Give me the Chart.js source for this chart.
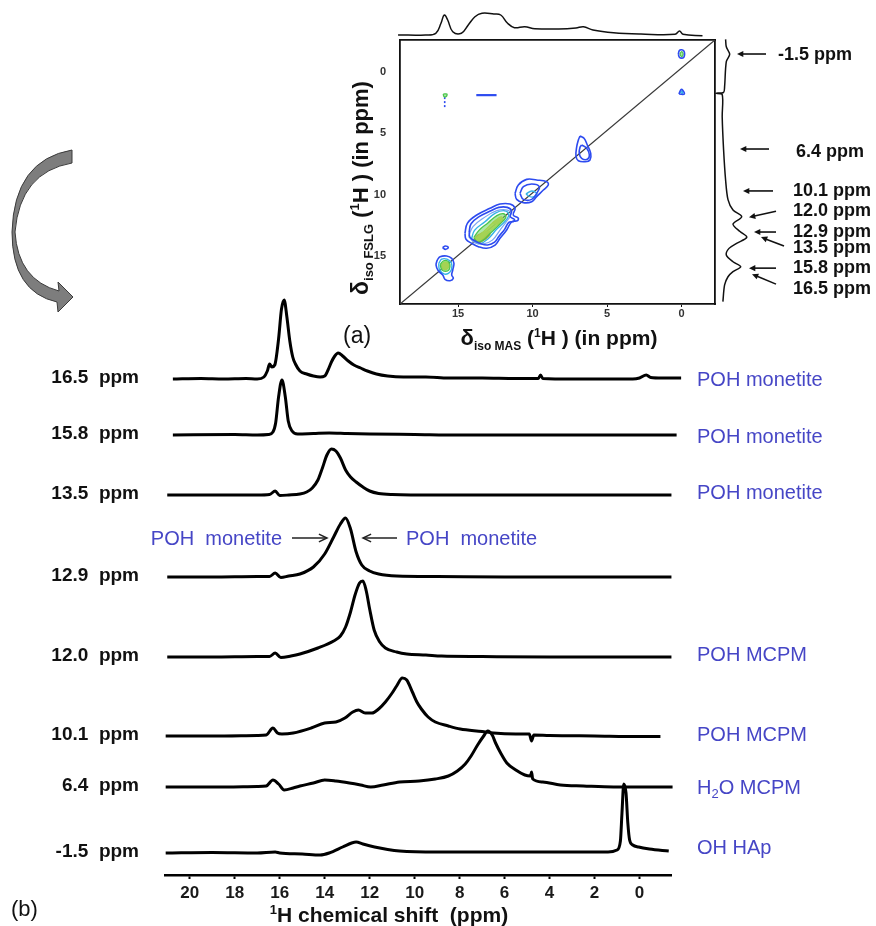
<!DOCTYPE html>
<html><head><meta charset="utf-8">
<script src="https://cdn.jsdelivr.net/npm/chart.js@4.4.0/dist/chart.umd.min.js"></script>
<style>
html,body{margin:0;padding:0;background:#fff;}
#wrap{position:relative;width:876px;height:926px;overflow:hidden;background:#fff;}
canvas{position:absolute;left:0;top:0;pointer-events:none;}
</style></head><body>
<div id="wrap">
<canvas id="cB" width="876" height="926"></canvas>
<canvas id="cA" width="876" height="926"></canvas>
<canvas id="cTop" width="876" height="926"></canvas>
<canvas id="cRight" width="876" height="926"></canvas>
</div>
<script>
// ---------------- DATA: panel (b) stacked 1D slices ----------------
const tickValuesB = [0,2,4,6,8,10,12,14,16,18,20];
const traceLabels = ['16.5  ppm','15.8  ppm','13.5  ppm','12.9  ppm','12.0  ppm','10.1  ppm','6.4  ppm','-1.5  ppm'];
const assignments = ['POH monetite','POH monetite','POH monetite','','POH MCPM','POH MCPM','H\u2082O MCPM','OH HAp'];
const stackOffsets = [496,440,380,298,218,139,88,22];

const trace16p5 = [[20.75,0],[19.5,0.5],[18.5,0],[17.5,0.5],[17.0,0],[16.7,2],[16.55,8],[16.45,15],[16.35,12],[16.22,14],[16.05,40],[15.92,70],[15.8,79],[15.68,62],[15.55,38],[15.42,22],[15.3,15],[15.1,8],[14.8,5],[14.5,3],[14.2,2],[14.0,3],[13.85,9],[13.7,17],[13.55,23],[13.4,26],[13.2,23],[12.95,18],[12.7,14],[12.4,11],[12.1,8],[11.7,5],[11.2,3],[10.5,2],[9.5,2],[8.5,1],[7.0,1],[5.5,0.5],[4.5,0.5],[4.4,4],[4.3,0.5],[3.0,0],[1.5,0],[0.3,0],[0.0,1],[-0.3,4],[-0.5,1.5],[-1.0,1],[-1.85,1]];
const trace15p8 = [[20.75,0],[18.0,0.5],[17.0,0],[16.5,0.5],[16.3,3],[16.18,12],[16.05,38],[15.9,55],[15.75,38],[15.62,14],[15.45,4],[15.2,1],[14.5,1.5],[13.8,2],[13.0,1.5],[12.0,1],[10.0,0.5],[8.0,0],[5.0,0],[2.0,0],[0.0,0],[-1.65,0]];
const trace13p5 = [[21.0,0],[19.0,0],[17.0,0],[16.45,0.5],[16.2,4],[16.0,-0.5],[15.6,0],[15.1,1],[14.8,3],[14.55,7],[14.3,15],[14.1,27],[13.9,40],[13.7,46],[13.5,44],[13.3,37],[13.07,25],[12.85,18],[12.6,13],[12.3,8],[12.0,4],[11.6,1.5],[11.0,0.5],[9.0,0],[6.0,0],[3.0,0],[0.0,0],[-1.42,0]];
const trace12p9 = [[21.0,0],[19.0,0],[17.0,0.5],[16.45,0.5],[16.2,4],[15.95,-0.5],[15.6,1],[15.1,3],[14.5,10],[14.0,23],[13.6,40],[13.3,53],[13.07,59],[12.85,48],[12.6,25],[12.35,12],[12.0,6],[11.6,3],[10.8,1],[9.0,0.5],[6.0,0],[3.0,0],[0.0,0],[-1.42,0]];
const trace12p0 = [[21.0,0],[19.0,0],[17.0,0.5],[16.45,0.5],[16.2,4],[15.95,-0.5],[15.5,1],[15.1,3],[14.3,9],[13.6,16],[13.3,21],[13.07,30],[12.85,45],[12.65,62],[12.45,74],[12.3,76],[12.15,66],[12.0,48],[11.8,27],[11.55,15],[11.3,9],[10.8,5],[10.35,3],[9.5,2],[8.8,1],[7.0,0.5],[4.0,0],[1.0,0],[-1.42,0]];
const trace10p1 = [[21.07,0],[19.0,0],[17.0,0.5],[16.6,1],[16.3,8],[16.1,3],[15.9,2],[15.4,3],[14.6,8],[14.0,13],[13.5,14],[13.1,18],[12.75,24],[12.5,26],[12.2,23],[11.9,23],[11.6,27],[11.3,34],[11.0,43],[10.8,50],[10.55,58],[10.35,56],[10.1,44],[9.9,34],[9.7,27],[9.4,19],[9.08,14],[8.5,10],[7.97,7],[7.0,4.5],[6.5,3],[5.5,2],[4.9,2],[4.8,-5],[4.7,1],[4.0,0.5],[2.0,0],[0.0,-0.5],[-0.93,-0.5]];
const trace6p4 = [[21.07,0],[19.0,0],[17.0,0.5],[16.6,1],[16.3,7],[16.05,3],[15.8,-3],[15.4,-1],[15.1,1],[14.5,4],[14.0,7],[13.5,6],[12.9,4],[12.4,2],[11.95,0],[11.4,2],[10.67,5],[9.8,6],[9.08,8],[8.5,11],[8.1,16],[7.75,23],[7.49,31],[7.2,42],[6.93,51],[6.75,56],[6.55,52],[6.4,44],[6.15,33],[5.9,24],[5.5,17],[5.1,12],[4.85,11],[4.8,15],[4.75,8],[4.3,5],[3.52,2],[2.5,1],[1.15,0],[-1.47,0]];
const traceMinus1p5 = [[21.07,0],[19.0,0.5],[17.0,0],[16.2,1],[16.0,0],[15.0,-1],[14.2,-2],[13.8,0],[13.2,6],[12.8,10],[12.6,11],[12.3,9],[11.78,6],[11.2,3.5],[10.67,2],[9.0,1],[7.0,1],[5.0,1],[3.0,1],[1.4,1],[1.0,3],[0.85,12],[0.78,40],[0.7,69],[0.6,60],[0.52,30],[0.44,13],[0.3,8],[0.04,6],[-0.44,4],[-1.3,2]];

// ---------------- DATA: panel (a) 2D map ----------------
const tickValuesA = [0,5,10,15];
const topProjection = [[19.03,5],[17.19,5],[16.5,6.7],[16.15,16.7],[15.93,25],[15.7,20],[15.36,8.3],[14.78,6.7],[14.32,15],[13.87,23.3],[13.4,26.7],[12.6,26],[12.14,25],[11.68,16.7],[11.22,12.3],[10.53,13.3],[9.85,11.3],[8.24,11],[7.09,12],[6.59,13.3],[5.95,10],[4.57,7.3],[2.73,6],[0.44,5.7],[0.14,9],[-0.09,5.7],[-1.4,4.3]];
const rightProjection = [[10.6,-2.65],[11.3,-2.05],[14.7,-1.43],[11.3,-0.83],[9.6,1.2],[8.6,1.66],[1,1.74],[7.2,1.84],[7.2,3.65],[8.6,6.36],[10.6,8.8],[13,10.4],[18,11.25],[26.7,11.79],[18,12.39],[25,13.0],[31.8,13.47],[21.6,13.96],[14,14.37],[11.3,14.91],[18,15.46],[25.7,15.86],[18,16.27],[13,16.68],[9.6,17.35],[7.9,18.71]];
const markerPpm = [-1.5,6.4,10.1,12.0,12.9,13.5,15.8,16.5];
const markerLabels = ['-1.5 ppm','6.4 ppm','10.1 ppm','12.0 ppm','12.9 ppm','13.5 ppm','15.8 ppm','16.5 ppm'];
const diagonal = [[18.9,18.9],[-2.24,-2.6]];
const dashH = [[13.78,1.89],[12.42,1.89]];
const dashV = [[15.9,2.05],[15.9,3.0]];

const contoursBlue = [
 [[0.22,-1.45],[0.15,-1.75],[0,-1.8],[-0.15,-1.7],[-0.2,-1.45],[-0.15,-1.2],[0,-1.12],[0.15,-1.2]],
 [[0.18,1.8],[0.05,1.45],[-0.05,1.45],[-0.18,1.8]],
 [[16.05,14.3],[15.85,14.18],[15.66,14.3],[15.85,14.45]],
 [[16.40,15.32],[16.21,15.05],[15.77,14.99],[15.43,15.18],[15.28,15.59],[15.36,16.13],[15.43,16.54],[15.32,16.81],[15.54,17.0],[15.88,16.89],[16.03,16.54],[16.33,16.19],[16.48,15.73]],
 [[6.82,5.22],[6.55,5.41],[6.33,5.95],[6.10,6.63],[6.15,7.17],[6.48,7.31],[6.93,7.23],[7.09,6.85],[7.04,6.09],[6.93,5.55]],
 [[6.71,5.95],[6.37,6.22],[6.19,6.77],[6.33,7.12],[6.71,7.04],[6.87,6.63],[6.82,6.14]],
 [[11.18,9.89],[10.96,9.21],[10.40,8.75],[9.73,8.80],[9.05,8.94],[8.95,9.21],[9.28,9.62],[9.73,10.16],[10.06,10.57],[10.62,10.65],[11.07,10.38]],
 [[10.85,9.89],[10.62,9.35],[10.06,9.13],[9.55,9.35],[9.73,9.89],[10.06,10.38],[10.62,10.38]],
 [[14.54,13.14],[14.38,12.33],[13.75,11.65],[12.86,11.11],[12.19,10.76],[11.52,10.76],[11.18,11.11],[11.30,11.65],[10.96,11.92],[11.03,12.12],[11.40,12.20],[11.74,12.87],[12.19,13.55],[12.52,14.10],[13.08,14.36],[13.64,14.23],[14.09,13.96],[14.47,13.63]],
 [[14.26,13.05],[14.13,12.36],[13.59,11.78],[12.84,11.33],[12.27,11.03],[11.70,11.03],[11.41,11.33],[11.51,11.78],[11.22,12.01],[11.28,12.18],[11.6,12.25],[11.88,12.82],[12.27,13.4],[12.55,13.87],[13.02,14.09],[13.5,13.98],[13.88,13.75],[14.2,13.47]]
];
const contoursLightBlue = [
 [[14.3,13.4],[14.0,12.6],[13.3,11.9],[12.4,11.3],[11.7,11.25],[11.45,11.6],[11.7,12.1],[12.2,12.9],[12.7,13.7],[13.3,14.0],[13.9,13.9]]
];
const contoursCyan = [
 [[14.1,13.6],[13.9,12.9],[13.2,12.2],[12.5,11.5],[11.9,11.3],[11.6,11.6],[11.8,12.1],[12.4,12.8],[13.0,13.6],[13.6,14.0]],
 [[16.3,15.6],[16.1,15.25],[15.75,15.25],[15.45,15.55],[15.45,16.1],[15.65,16.4],[15.95,16.45],[16.25,16.1]],
 [[10.45,9.95],[10.06,9.7],[9.7,9.95],[10.06,10.2]],
 [[0.08,1.72],[0,1.55],[-0.08,1.72]]
];
const contoursGreen = [
 [[13.95,13.5],[13.6,12.9],[13.0,12.3],[12.4,11.7],[11.95,11.55],[11.8,11.85],[12.2,12.4],[12.8,13.1],[13.3,13.7],[13.7,13.85]],
 [[16.2,15.7],[16.0,15.4],[15.7,15.4],[15.55,15.7],[15.6,16.1],[15.85,16.25],[16.1,16.1]],
 [[0.12,-1.45],[0,-1.65],[-0.1,-1.45],[0,-1.25]],
 [[16.0,1.8],[15.75,1.8],[15.8,2.0],[15.95,2.0]]
];
const contoursYellow = [
 [[13.85,13.55],[13.3,13.0],[12.6,12.2],[12.1,11.8],[12.0,12.1],[12.6,12.7],[13.2,13.4],[13.6,13.75]],
 [[16.12,15.75],[15.95,15.5],[15.72,15.52],[15.62,15.8],[15.75,16.08],[15.98,16.08]]
];
const contoursOrange = [
 [[14.0,13.75],[13.7,13.3],[13.0,12.95],[12.85,13.2],[13.2,13.65],[13.7,13.95]],
 [[12.7,12.3],[12.3,12.0],[12.0,12.05],[12.3,12.35]],
 [[16.16,15.8],[15.88,15.52],[15.6,15.8],[15.88,16.08]]
];
const contoursRed = [
 [[13.85,13.75],[13.6,13.45],[13.1,13.15],[13.0,13.3],[13.3,13.6],[13.6,13.8]],
 [[16.08,15.8],[15.88,15.6],[15.68,15.8],[15.88,16.0]]
];

// ---------------- helpers ----------------
const LS = '"Liberation Sans", Arial, sans-serif';
const BLUE_TXT = '#4646c6';
Chart.defaults.font.family = LS;

function rich(ctx, segs, x, y, align){
  let w = 0;
  segs.forEach(s=>{ctx.font=s.f; w+=ctx.measureText(s.t).width;});
  let cx = align==='center' ? x-w/2 : (align==='right' ? x-w : x);
  ctx.textAlign='left'; ctx.textBaseline='alphabetic';
  segs.forEach(s=>{ctx.font=s.f; ctx.fillText(s.t, cx, y+(s.dy||0)); cx+=ctx.measureText(s.t).width;});
}
function arrowLine(ctx, tx, ty, hx, hy, size, open){
  const a = Math.atan2(hy-ty, hx-tx);
  ctx.beginPath(); ctx.moveTo(tx,ty); ctx.lineTo(hx - (open?0:size*0.8)*Math.cos(a), hy - (open?0:size*0.8)*Math.sin(a)); ctx.stroke();
  const p1 = [hx - size*Math.cos(a-0.45), hy - size*Math.sin(a-0.45)];
  const p2 = [hx - size*Math.cos(a+0.45), hy - size*Math.sin(a+0.45)];
  ctx.beginPath();
  if(open){ ctx.moveTo(p1[0],p1[1]); ctx.lineTo(hx,hy); ctx.lineTo(p2[0],p2[1]); ctx.stroke(); }
  else { ctx.moveTo(hx,hy); ctx.lineTo(p1[0],p1[1]); ctx.lineTo(p2[0],p2[1]); ctx.closePath(); ctx.fill(); }
}
const pt = a => ({x:a[0], y:a[1]});
const closed = p => p.concat([p[0]]).map(pt);

// ---------------- chart (b) ----------------
const specSets = [trace16p5, trace15p8, trace13p5, trace12p9, trace12p0, trace10p1, trace6p4, traceMinus1p5].map((tr,i)=>({
  data: tr.map(([x,h])=>({x:x, y:h+stackOffsets[i]})),
  showLine:true, borderColor:'#000', borderWidth:3, pointRadius:0,
  cubicInterpolationMode:'monotone', clip:false, fill:false
}));

const labelDy = [0,1,-3,0,-3,-2,0,-6];
const annotB = {
  id:'annotB',
  afterDraw(chart){
    const ctx = chart.ctx, ys = chart.scales.y;
    ctx.save();
    ctx.fillStyle='#111'; ctx.font='bold 19px '+LS; ctx.textAlign='right'; ctx.textBaseline='middle';
    traceLabels.forEach((t,i)=>{ ctx.fillText(t, 139, ys.getPixelForValue(stackOffsets[i]) - 1); });
    ctx.fillStyle = BLUE_TXT;
    assignments.forEach((a,i)=>{
      if(!a) return;
      const yb = ys.getPixelForValue(stackOffsets[i]) + labelDy[i] + 7;
      const f = '20px '+LS;
      if(a.indexOf('\u2082')>=0){
        const parts = a.split('\u2082');
        rich(ctx,[{t:parts[0],f:f},{t:'2',f:'13px '+LS,dy:4},{t:parts[1],f:f}], 697, yb, 'left');
      } else rich(ctx,[{t:a,f:f}], 697, yb, 'left');
    });
    rich(ctx,[{t:'POH  monetite',f:'20px '+LS}], 282, 545, 'right');
    rich(ctx,[{t:'POH  monetite',f:'20px '+LS}], 406, 545, 'left');
    ctx.strokeStyle='#222'; ctx.lineWidth=1.5; ctx.fillStyle='#222';
    arrowLine(ctx, 292, 538, 327, 538, 9, true);
    arrowLine(ctx, 397, 538, 363, 538, 9, true);
    ctx.fillStyle='#111';
    rich(ctx,[{t:'(b)',f:'22px '+LS}], 11, 916, 'left');
    rich(ctx,[{t:'1',f:'bold 13px '+LS,dy:-8},{t:'H chemical shift  (ppm)',f:'bold 21px '+LS}], 389, 922, 'center');
    ctx.beginPath();
    ctx.moveTo(72,150);
    ctx.quadraticCurveTo(14,160,12,232);
    ctx.quadraticCurveTo(12,292,57,302);
    ctx.lineTo(58,312);
    ctx.lineTo(73,297);
    ctx.lineTo(58,282);
    ctx.lineTo(59,291);
    ctx.quadraticCurveTo(18,280,15,232);
    ctx.quadraticCurveTo(20,172,72,163);
    ctx.closePath();
    ctx.fillStyle='#7d7d7d'; ctx.fill();
    ctx.strokeStyle='#3a3a3a'; ctx.lineWidth=1; ctx.stroke();
    ctx.restore();
  }
};

new Chart(document.getElementById('cB'), {
  type:'scatter',
  data:{datasets:specSets},
  options:{
    responsive:false, animation:false, events:[],
    layout:{padding:{left:165,right:205,top:290,bottom:0}},
    plugins:{legend:{display:false},tooltip:{enabled:false}},
    scales:{
      x:{type:'linear', reverse:true, min:-1.4, max:21.1, position:'bottom',
        afterFit:s=>{s.height=51;},
        afterBuildTicks:s=>{s.ticks=tickValuesB.map(v=>({value:v}));},
        grid:{display:true, drawOnChartArea:false, drawTicks:true, tickLength:4, tickWidth:2, tickColor:'#000'},
        border:{display:true, color:'#000', width:2.5},
        ticks:{font:{family:LS,size:17,weight:'bold'}, color:'#1a1a1a', padding:4, maxRotation:0, autoSkip:false}
      },
      y:{type:'linear', display:false, min:0, max:585}
    }
  },
  plugins:[annotB]
});

// ---------------- chart (a): 2D contour map ----------------
const contourSets = [];
[[contoursBlue,'#2d4bf0',null,1.6],[contoursLightBlue,'#7aa4f2',null,1.2],[contoursCyan,'#35b2e6',null,1.4],[contoursGreen,'#4cc64c','rgba(110,210,100,0.55)',1.3],
 [contoursYellow,'#e2d83a','rgba(232,222,70,0.85)',1.1],[contoursOrange,'#ee922c','rgba(240,150,50,0.9)',1.1],[contoursRed,'#dd2418','#dd2418',1]]
 .forEach(([polys,col,fillCol,bw])=>{
   polys.forEach(p=>{
     contourSets.push({data:closed(p), showLine:true, borderColor:col, borderWidth:bw, pointRadius:0, tension:0.4,
       fill: fillCol ? 'shape' : false, backgroundColor: fillCol || 'transparent'});
   });
 });
contourSets.push({data:diagonal.map(pt), showLine:true, borderColor:'#3a3a3a', borderWidth:1.3, pointRadius:0, tension:0});
contourSets.push({data:dashH.map(pt), showLine:true, borderColor:'#2d4bf0', borderWidth:2.2, pointRadius:0, tension:0});
contourSets.push({data:dashV.map(pt), showLine:true, borderColor:'#2d4bf0', borderWidth:1.6, borderDash:[2,2], pointRadius:0, tension:0});

const annotA = {
  id:'annotA',
  afterDraw(chart){
    const ctx = chart.ctx;
    ctx.save();
    ctx.fillStyle='#111';
    rich(ctx,[{t:'(a)',f:'23px '+LS}], 343, 343, 'left');
    rich(ctx,[{t:'\u03B4',f:'bold 22px '+LS},{t:'iso MAS',f:'bold 12px '+LS,dy:5},{t:' (',f:'bold 21px '+LS},{t:'1',f:'bold 12px '+LS,dy:-8},{t:'H ) (in ppm)',f:'bold 21px '+LS}], 559, 345, 'center');
    ctx.translate(368, 188); ctx.rotate(-Math.PI/2);
    rich(ctx,[{t:'\u03B4',f:'bold 23px '+LS},{t:'iso FSLG',f:'bold 13px '+LS,dy:5},{t:' (',f:'bold 22px '+LS},{t:'1',f:'bold 13px '+LS,dy:-9},{t:'H ) (in ppm)',f:'bold 22px '+LS}], 0, 0, 'center');
    ctx.restore();
  }
};

const hiddenBorderScale = (pos) => ({type:'linear', position:pos, display:true,
  afterFit:s=>{ if(pos==='top') s.height=0; else s.width=0; },
  grid:{display:false}, ticks:{display:false}, border:{display:true,color:'#111',width:1.8}});

new Chart(document.getElementById('cA'), {
  type:'scatter',
  data:{datasets:contourSets},
  options:{
    responsive:false, animation:false, events:[],
    layout:{padding:{left:360,right:161,top:40,bottom:602}},
    plugins:{legend:{display:false},tooltip:{enabled:false}},
    scales:{
      x:{type:'linear', reverse:true, min:-2.24, max:18.9, position:'bottom',
        afterFit:s=>{s.height=20;},
        afterBuildTicks:s=>{s.ticks=tickValuesA.map(v=>({value:v}));},
        grid:{display:true, drawOnChartArea:false, tickLength:3, tickColor:'#111', tickWidth:1},
        border:{display:true,color:'#111',width:1.8},
        ticks:{font:{family:LS,size:11,weight:'bold'}, color:'#333', padding:0, maxRotation:0, autoSkip:false}},
      y:{type:'linear', reverse:true, min:-2.6, max:18.9, position:'left',
        afterFit:s=>{s.width=40;},
        afterBuildTicks:s=>{s.ticks=tickValuesA.map(v=>({value:v}));},
        grid:{display:false},
        border:{display:true,color:'#111',width:1.8},
        ticks:{font:{family:LS,size:11,weight:'bold'}, color:'#333', padding:6, autoSkip:false}},
      xTop: hiddenBorderScale('top'),
      yRight: hiddenBorderScale('right')
    }
  },
  plugins:[annotA]
});

// ---------------- top projection ----------------
new Chart(document.getElementById('cTop'), {
  type:'scatter',
  data:{datasets:[{data:topProjection.map(pt), showLine:true, borderColor:'#111', borderWidth:1.5, pointRadius:0, tension:0.4, clip:false}]},
  options:{
    responsive:false, animation:false, events:[],
    layout:{padding:{left:400,right:161,top:0,bottom:886}},
    plugins:{legend:{display:false},tooltip:{enabled:false}},
    scales:{
      x:{type:'linear', reverse:true, min:-2.24, max:18.9, display:false},
      y:{type:'linear', min:0, max:40, display:false}
    }
  }
});

// ---------------- right projection + markers ----------------
const markerGeom = [[737,0.5,766,0.5,778,1.5],[740,-1.5,769,-1.5,796,1.5],[743,-5,773,-5,793,-5],[749,-2,776,-8,793,-8],
  [754,1.7,776,1.7,793,1.7],[761,-0.6,784,8.4,793,10.4],[749,2.2,776,2.2,793,2.2],[752,-0.4,776,9.6,793,14.6]];
const annotR = {
  id:'annotR',
  afterDraw(chart){
    const ctx = chart.ctx, ys = chart.scales.y;
    ctx.save();
    ctx.strokeStyle='#111'; ctx.fillStyle='#111'; ctx.lineWidth=1.6;
    markerPpm.forEach((v,i)=>{
      const base = ys.getPixelForValue(v);
      const g = markerGeom[i];
      arrowLine(ctx, g[2], base+g[3], g[0], base+g[1], 7, false);
      ctx.font='bold 18px '+LS; ctx.textAlign='left'; ctx.textBaseline='middle';
      ctx.fillText(markerLabels[i], g[4], base+g[5]);
    });
    ctx.restore();
  }
};
new Chart(document.getElementById('cRight'), {
  type:'scatter',
  data:{datasets:[{data:rightProjection.map(pt), showLine:true, borderColor:'#111', borderWidth:1.5, pointRadius:0, tension:0.3, clip:false}]},
  options:{
    responsive:false, animation:false, events:[],
    layout:{padding:{left:715,right:116,top:40,bottom:622}},
    plugins:{legend:{display:false},tooltip:{enabled:false}},
    scales:{
      x:{type:'linear', min:0, max:45, display:false},
      y:{type:'linear', reverse:true, min:-2.6, max:18.9, display:false}
    }
  },
  plugins:[annotR]
});
</script>
</body></html>
